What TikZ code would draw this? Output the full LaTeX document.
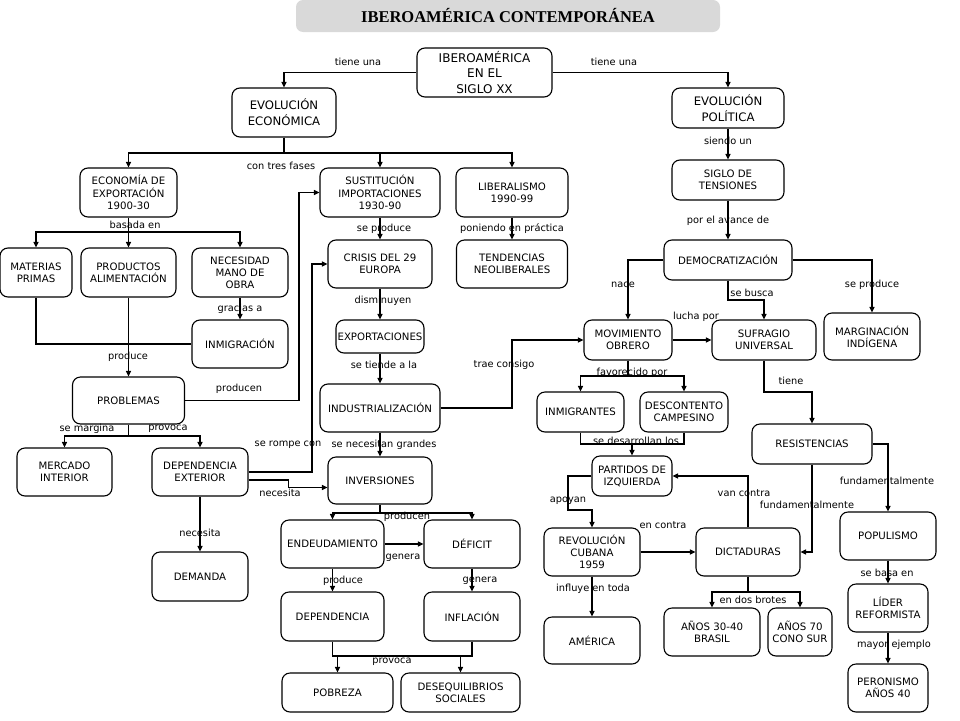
\documentclass[tikz,border=0pt]{standalone}
\usepackage{fontspec}
\setmainfont{DejaVu Sans}
\newfontfamily\titulofont{Liberation Serif}
\usetikzlibrary{arrows.meta}
\definecolor{grisTitulo}{RGB}{217,217,217}
\tikzset{
  caja/.style={draw, line width=1.1pt, rounded corners=8pt, align=center, inner sep=1pt,
    font=\fontsize{10.2}{12.2}\selectfont},
  grande/.style={caja, font=\fontsize{11.7}{16}\selectfont},
  etiq/.style={inner sep=0pt, font=\fontsize{9.8}{11}\selectfont},
  flecha/.style={-{Triangle[length=5.5pt,width=5pt]}},
  linea/.style={line width=1.1pt}
}
\begin{document}
\begin{tikzpicture}[x=1pt,y=-1pt]
    \useasboundingbox (0,0) rectangle (960,720);
    % Titulo
    \node[fill=grisTitulo, rounded corners=7pt, minimum width=424, minimum height=32,
      font=\titulofont\bfseries\fontsize{16.5}{18}\selectfont] (titulo) at (508,16) {IBEROAMÉRICA CONTEMPORÁNEA};
    % Nodos principales
    \node[grande, font=\fontsize{12}{15.5}\selectfont, minimum width=135, minimum height=49] (ibero) at (484.5,72.5) {IBEROAMÉRICA\\EN EL\\SIGLO XX};
    \node[grande, minimum width=104, minimum height=49] (evoEcon) at (284,112.5) {EVOLUCIÓN\\ECONÓMICA};
    \node[grande, minimum width=112, minimum height=40] (evoPol) at (728,108) {EVOLUCIÓN\\POLÍTICA};
    % Evolucion economica
    \node[caja, minimum width=97, minimum height=49] (expo) at (128.5,192.5) {ECONOMÍA DE\\EXPORTACIÓN\\1900-30};
    \node[caja, minimum width=120, minimum height=49] (sust) at (380,192.5) {SUSTITUCIÓN\\IMPORTACIONES\\1930-90};
    \node[caja, minimum width=112, minimum height=49] (lib) at (512,192.5) {LIBERALISMO\\1990-99};
    \node[caja, minimum width=72, minimum height=49] (materias) at (36,272.5) {MATERIAS\\PRIMAS};
    \node[caja, minimum width=95, minimum height=49] (productos) at (128.5,272.5) {PRODUCTOS\\ALIMENTACIÓN};
    \node[caja, minimum width=96, minimum height=49] (necesidad) at (240,272.5) {NECESIDAD\\MANO DE\\OBRA};
    \node[caja, minimum width=96, minimum height=48] (inmigracion) at (240,344) {INMIGRACIÓN};
    \node[caja, minimum width=112, minimum height=47] (problemas) at (128.5,400.5) {PROBLEMAS};
    \node[caja, minimum width=95, minimum height=48] (mercado) at (64.5,472) {MERCADO\\INTERIOR};
    \node[caja, minimum width=96, minimum height=48] (depExt) at (200,472) {DEPENDENCIA\\EXTERIOR};
    \node[caja, minimum width=96, minimum height=49] (demanda) at (200,576.5) {DEMANDA};
    \node[caja, minimum width=104, minimum height=48] (crisis) at (380,264) {CRISIS DEL 29\\EUROPA};
    \node[caja, minimum width=111, minimum height=48] (tendencias) at (512,264) {TENDENCIAS\\NEOLIBERALES};
    \node[caja, minimum width=88, minimum height=33] (exportaciones) at (380,336.5) {EXPORTACIONES};
    \node[caja, minimum width=120, minimum height=48] (industrializacion) at (380,408) {INDUSTRIALIZACIÓN};
    \node[caja, minimum width=104, minimum height=47] (inversiones) at (380,480.5) {INVERSIONES};
    \node[caja, minimum width=103, minimum height=48] (endeudamiento) at (332.5,544) {ENDEUDAMIENTO};
    \node[caja, minimum width=96, minimum height=48] (deficit) at (472,544) {DÉFICIT};
    \node[caja, minimum width=103, minimum height=49] (dependencia) at (332.5,616.5) {DEPENDENCIA};
    \node[caja, minimum width=96, minimum height=49] (inflacion) at (472,616.5) {INFLACIÓN};
    \node[caja, minimum width=111, minimum height=39] (pobreza) at (337.5,692.5) {POBREZA};
    \node[caja, minimum width=119, minimum height=39] (desequilibrios) at (460.5,692.5) {DESEQUILIBRIOS\\SOCIALES};
    % Evolucion politica
    \node[caja, minimum width=112, minimum height=40] (siglo) at (728,180) {SIGLO DE\\TENSIONES};
    \node[caja, minimum width=128, minimum height=40] (demo) at (728,260) {DEMOCRATIZACIÓN};
    \node[caja, minimum width=88, minimum height=40] (movimiento) at (628,340) {MOVIMIENTO\\OBRERO};
    \node[caja, minimum width=104, minimum height=40] (sufragio) at (764,340) {SUFRAGIO\\UNIVERSAL};
    \node[caja, minimum width=96, minimum height=47] (marginacion) at (872,336.5) {MARGINACIÓN\\INDÍGENA};
    \node[caja, minimum width=87, minimum height=40] (inmigrantes) at (580.5,412) {INMIGRANTES};
    \node[caja, minimum width=88, minimum height=40] (descontento) at (684,412) {DESCONTENTO\\CAMPESINO};
    \node[caja, minimum width=80, minimum height=40] (partidos) at (632,476) {PARTIDOS DE\\IZQUIERDA};
    \node[caja, minimum width=96, minimum height=48] (revolucion) at (592,552) {REVOLUCIÓN\\CUBANA\\1959};
    \node[caja, minimum width=104, minimum height=48] (dictaduras) at (748,552) {DICTADURAS};
    \node[caja, minimum width=120, minimum height=40] (resistencias) at (812,444) {RESISTENCIAS};
    \node[caja, minimum width=96, minimum height=48] (populismo) at (888,536) {POPULISMO};
    \node[caja, minimum width=80, minimum height=48] (lider) at (888,608) {LÍDER\\REFORMISTA};
    \node[caja, minimum width=80, minimum height=48] (peronismo) at (888,688) {PERONISMO\\AÑOS 40};
    \node[caja, minimum width=96, minimum height=47] (america) at (592,640.5) {AMÉRICA};
    \node[caja, minimum width=96, minimum height=48] (anos3040) at (712,632) {AÑOS 30-40\\BRASIL};
    \node[caja, minimum width=64, minimum height=48] (anos70) at (800,632) {AÑOS 70\\CONO SUR};
    % Ramificaciones
    \coordinate (ramaEcon) at (284,153);
    \coordinate (ramaExpo) at (128.5,232);
    \coordinate (ramaProb) at (128.5,436);
    \coordinate (ramaInv) at (380,513);
    \coordinate (ramaProv) at (400,656);
    \coordinate (ramaMov) at (628,376);
    \coordinate (ramaPart) at (632,444);
    \coordinate (ramaDic) at (748,592);
    % Conectores
    \begin{scope}[linea]
    \draw[flecha] (ibero.west) -| (evoEcon.north);
    \draw[flecha] (ibero.east) -| (evoPol.north);
    \draw (evoEcon.south) -- (ramaEcon);
    \draw[flecha] (ramaEcon) -| (expo.north);
    \draw[flecha] (ramaEcon) -| (sust.north);
    \draw[flecha] (ramaEcon) -| (lib.north);
    \draw (expo.south) -- (ramaExpo);
    \draw[flecha] (ramaExpo) -| (materias.north);
    \draw[flecha] (ramaExpo) -- (productos.north);
    \draw[flecha] (ramaExpo) -| (necesidad.north);
    \draw[flecha] (necesidad) -- (inmigracion);
    \draw (materias.south) |- (inmigracion.west);
    \draw[flecha] (productos) -- (problemas);
    \draw[flecha] (problemas.east) -- (299,400.5) |- (sust.west);
    \draw (problemas.south) -- (ramaProb);
    \draw[flecha] (ramaProb) -| (mercado.north);
    \draw[flecha] (ramaProb) -| (depExt.north);
    \draw[flecha] (depExt) -- (demanda);
    \draw[flecha] (depExt.east) -- (312,472) |- (crisis.west);
    \draw[flecha] ([yshift=-8pt]depExt.east) -- ++(40,0) |- ([yshift=-7pt]inversiones.west);
    \draw[flecha] (sust) -- (crisis);
    \draw[flecha] (lib) -- (tendencias);
    \draw[flecha] (crisis) -- (exportaciones);
    \draw[flecha] (exportaciones) -- (industrializacion);
    \draw[flecha] (industrializacion) -- (inversiones);
    \draw[flecha] (industrializacion.east) -- (512,408) |- (movimiento.west);
    \draw (inversiones.south) -- (ramaInv);
    \draw[flecha] (ramaInv) -| (endeudamiento.north);
    \draw[flecha] (ramaInv) -| (deficit.north);
    \draw[flecha] (endeudamiento) -- (deficit);
    \draw[flecha] (endeudamiento) -- (dependencia);
    \draw[flecha] (deficit) -- (inflacion);
    \draw (dependencia.south) |- (ramaProv);
    \draw (inflacion.south) |- (ramaProv);
    \draw[flecha] (ramaProv) -| (pobreza.north);
    \draw[flecha] (ramaProv) -| (desequilibrios.north);
    \draw[flecha] (evoPol) -- (siglo);
    \draw[flecha] (siglo) -- (demo);
    \draw[flecha] (demo.west) -| (movimiento.north);
    \draw[flecha] (demo.south) -- (728,300) -| (sufragio.north);
    \draw[flecha] (demo.east) -| (marginacion.north);
    \draw[flecha] (movimiento) -- (sufragio);
    \draw (movimiento.south) -- (ramaMov);
    \draw[flecha] (ramaMov) -| (inmigrantes.north);
    \draw[flecha] (ramaMov) -| (descontento.north);
    \draw (inmigrantes.south) |- (ramaPart);
    \draw (descontento.south) |- (ramaPart);
    \draw[flecha] (ramaPart) -- (partidos.north);
    \draw[flecha] (partidos.west) -| (568,510) -| (revolucion.north);
    \draw[flecha] (revolucion) -- (dictaduras);
    \draw[flecha] (dictaduras.north) |- (partidos.east);
    \draw[flecha] (resistencias.south) |- (dictaduras.east);
    \draw[flecha] (sufragio.south) -- (764,392) -| (resistencias.north);
    \draw[flecha] (resistencias.east) -| (populismo.north);
    \draw[flecha] (populismo) -- (lider);
    \draw[flecha] (lider) -- (peronismo);
    \draw[flecha] (revolucion) -- (america);
    \draw (dictaduras.south) -- (ramaDic);
    \draw[flecha] (ramaDic) -| (anos3040.north);
    \draw[flecha] (ramaDic) -| (anos70.north);
    \end{scope}
    % Etiquetas de los conectores
    \node[etiq] (tieneUnaI) at (358,62) {tiene una};
    \node[etiq] (tieneUnaD) at (614,62) {tiene una};
    \node[etiq] (tresFases) at (281,166) {con tres fases};
    \node[etiq] (basada) at (135,225) {basada en};
    \node[etiq] (gracias) at (240,309) {gracias a};
    \node[etiq] (produceA) at (128,357) {produce};
    \node[etiq] (producenA) at (239,389) {producen};
    \node[etiq] (margina) at (87,429) {se margina};
    \node[etiq] (provocaA) at (168,429) {provoca};
    \node[etiq] (necesitaA) at (200,533) {necesita};
    \node[etiq] (rompe) at (288,445) {se rompe con};
    \node[etiq] (necesitaB) at (280,493) {necesita};
    \node[etiq] (seProduceA) at (384,229) {se produce};
    \node[etiq] (poniendo) at (512,229) {poniendo en práctica};
    \node[etiq] (disminuyen) at (383,301) {disminuyen};
    \node[etiq] (tiende) at (384,365) {se tiende a la};
    \node[etiq] (trae) at (504,365) {trae consigo};
    \node[etiq] (grandes) at (384,445) {se necesitan grandes};
    \node[etiq] (producenB) at (407,517) {producen};
    \node[etiq] (generaA) at (403,558) {genera};
    \node[etiq] (produceB) at (343,581) {produce};
    \node[etiq] (generaB) at (480,581) {genera};
    \node[etiq] (provocaB) at (392,662) {provoca};
    \node[etiq] (siendo) at (728,141) {siendo un};
    \node[etiq] (avance) at (728,221) {por el avance de};
    \node[etiq] (nace) at (623,285) {nace};
    \node[etiq] (busca) at (752,293) {se busca};
    \node[etiq] (seProduceB) at (872,285) {se produce};
    \node[etiq] (lucha) at (696,317) {lucha por};
    \node[etiq] (favorecido) at (632,373) {favorecido por};
    \node[etiq] (desarrollan) at (636,441) {se desarrollan los};
    \node[etiq] (apoyan) at (568,501) {apoyan};
    \node[etiq] (enContra) at (663,525) {en contra};
    \node[etiq] (vanContra) at (744,493) {van contra};
    \node[etiq] (fundA) at (807,505) {fundamentalmente};
    \node[etiq] (tiene) at (791,381) {tiene};
    \node[etiq] (fundB) at (887,481) {fundamentalmente};
    \node[etiq] (basa) at (887,573) {se basa en};
    \node[etiq] (ejemplo) at (894,645) {mayor ejemplo};
    \node[etiq] (influye) at (593,589) {influye en toda};
    \node[etiq] (brotes) at (753,600) {en dos brotes};
\end{tikzpicture}
\end{document}
